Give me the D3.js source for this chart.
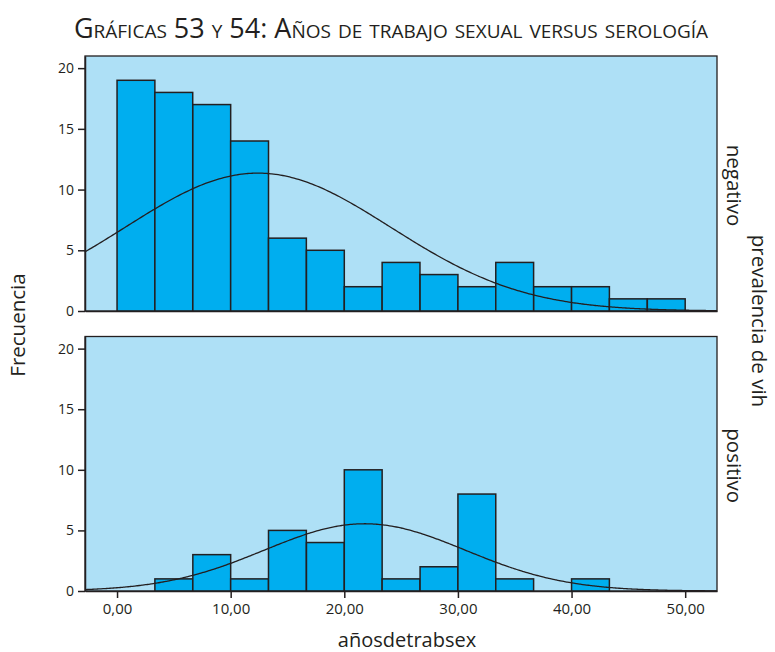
<!DOCTYPE html>
<meta charset='utf-8'>
<head>
  <style>
    body { margin: 0; background: #fff; }
    text { font-family: 'Open Sans', sans-serif; fill: #231f20; }
    .axis path, .axis line { fill: none; stroke: #231f20; stroke-width: 1.5; }
    .axis text { font-size: 14px; }
  </style>
</head>
<body>
<script src='https://d3js.org/d3.v7.min.js'></script>
<script>

// bins of años de trabajo sexual (left edges), shared by both panels
var binStarts = [0, 3.33, 6.67, 10, 13.33, 16.67, 20, 23.33, 26.67, 30, 33.33, 36.67, 40, 43.33, 46.67];
var binWidth = 3.33;

// frequencies per bin
var countsNegativo = [19, 18, 17, 14, 6, 5, 2, 4, 3, 2, 4, 2, 2, 1, 1];
var countsPositivo = [0, 1, 3, 1, 5, 4, 10, 1, 2, 8, 1, 0, 1, 0, 0];

// fitted normal curve parameters (mean, sd, n)
var fitNegativo = [12.4, 11.7, 100];
var fitPositivo = [21.8, 8.86, 37];

var panelNames = ['negativo', 'positivo'];
var yTicks = [0, 5, 10, 15, 20];
var xTicks = [0, 10, 20, 30, 40, 50];

var W = 775, H = 652;
var left = 85, right = 717;

var svg = d3.select('body').append('svg')
    .attr('width', W)
    .attr('height', H);

var x = d3.scaleLinear().domain([-2.82, 52.8]).range([left, right]);

var panels = [
  {name: panelNames[0], counts: countsNegativo, fit: fitNegativo, top: 56, bottom: 311},
  {name: panelNames[1], counts: countsPositivo, fit: fitPositivo, top: 336.5, bottom: 591}
];

var line = d3.line().curve(d3.curveBasis);

panels.forEach((p, pi) => {
  var y = d3.scaleLinear().domain([0, 21]).range([p.bottom, p.top]);
  var g = svg.append('g');

  g.append('rect')
      .attr('x', left)
      .attr('y', p.top)
      .attr('width', right - left)
      .attr('height', p.bottom - p.top)
      .style('fill', '#aee0f6')
      .style('stroke', '#231f20')
      .style('stroke-width', 1.3);

  g.selectAll('.bar')
      .data(p.counts.map((c, i) => ({x0: binStarts[i], c: c})).filter(d => d.c > 0))
    .enter().append('rect')
      .attr('class', 'bar')
      .attr('x', d => x(d.x0))
      .attr('y', d => y(d.c))
      .attr('width', d => x(d.x0 + binWidth) - x(d.x0))
      .attr('height', d => y(0) - y(d.c))
      .style('fill', '#00aeef')
      .style('stroke', '#231f20')
      .style('stroke-width', 1.5);

  // normal curve
  var mu = p.fit[0], sd = p.fit[1], n = p.fit[2];
  var pts = d3.range(x.domain()[0], x.domain()[1] + 0.01, 0.2).map(v =>
    [x(v), y(n * binWidth / (sd * Math.sqrt(2 * Math.PI)) * Math.exp(-0.5 * Math.pow((v - mu) / sd, 2)))]);
  g.append('path')
      .attr('d', line(pts))
      .style('fill', 'none')
      .style('stroke', '#231f20')
      .style('stroke-width', 1.3);

  g.append('g')
      .attr('class', 'axis')
      .attr('transform', 'translate(' + left + ',0)')
      .call(d3.axisLeft(y).tickValues(yTicks).tickSize(7).tickSizeOuter(0).tickPadding(4));

  var xa = g.append('g')
      .attr('class', 'axis')
      .attr('transform', 'translate(0,' + p.bottom + ')');
  if (pi == 1) {
    xa.call(d3.axisBottom(x).tickValues(xTicks).tickSize(7).tickSizeOuter(0).tickPadding(5)
        .tickFormat(d => d.toFixed(2).replace('.', ',')));
    xa.selectAll('text').style('font-size', '15px');
  } else {
    xa.call(d3.axisBottom(x).tickValues([]).tickSizeOuter(0));
  }

  g.append('text')
      .attr('transform', 'translate(727,' + ((p.top + p.bottom) / 2 + 2) + ') rotate(90)')
      .style('text-anchor', 'middle')
      .style('font-size', '20.5px')
      .text(p.name);
});

svg.append('text')
    .attr('x', 391)
    .attr('y', 38)
    .style('text-anchor', 'middle')
    .style('font-size', '27px')
    .style('font-variant', 'small-caps')
    .text('Gráficas 53 y 54: Años de trabajo sexual versus serología');

svg.append('text')
    .attr('transform', 'translate(25,325) rotate(-90)')
    .style('text-anchor', 'middle')
    .style('font-size', '20.5px')
    .text('Frecuencia');

svg.append('text')
    .attr('transform', 'translate(752,321) rotate(90)')
    .style('text-anchor', 'middle')
    .style('font-size', '20.5px')
    .text('prevalencia de vih');

svg.append('text')
    .attr('x', 407)
    .attr('y', 647)
    .style('text-anchor', 'middle')
    .style('font-size', '20px')
    .text('añosdetrabsex');

</script>
</body>
